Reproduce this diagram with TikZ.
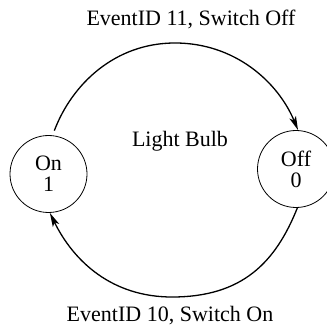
\documentclass[tikz,border=0pt]{standalone}
\usepackage{fontspec}
\setmainfont{Liberation Serif}
\usetikzlibrary{arrows.meta}

\begin{document}
\begin{tikzpicture}[x=1pt,y=-1pt,
      font=\fontsize{22}{21}\selectfont,
      state/.style={draw,circle,line width=0.8pt,minimum size=77pt,inner sep=0pt,align=center},
      trans/.style={line width=1.3pt,-{Stealth[length=14pt,width=7pt,inset=3.5pt]}}]
    \useasboundingbox (0,0) rectangle (326,328);
    \node[state] (on)  at (48.5,174) {On\\1};
    \node[state] (off) at (296,169)  {Off\\0};
    \node[anchor=base] (bulb) at (180,147) {Light Bulb};
    \node[anchor=base] (evoff) at (191,26)  {EventID 11, Switch Off};
    \node[anchor=base] (evon)  at (170,321) {EventID 10, Switch On};

    % switch off: over the top
    \draw[trans,shorten <=5pt] (on.84) .. controls (72,84) and (115,43) .. (175,43)
      .. controls (235,43) and (278,82) .. (off.87);
    % switch on: round the bottom
    \draw[trans] (off.272) .. controls (275.4,262.8) and (242,297) .. (172,297)
      .. controls (112,297) and (73.7,261.5) .. (on.272);
  \end{tikzpicture}
\end{document}
